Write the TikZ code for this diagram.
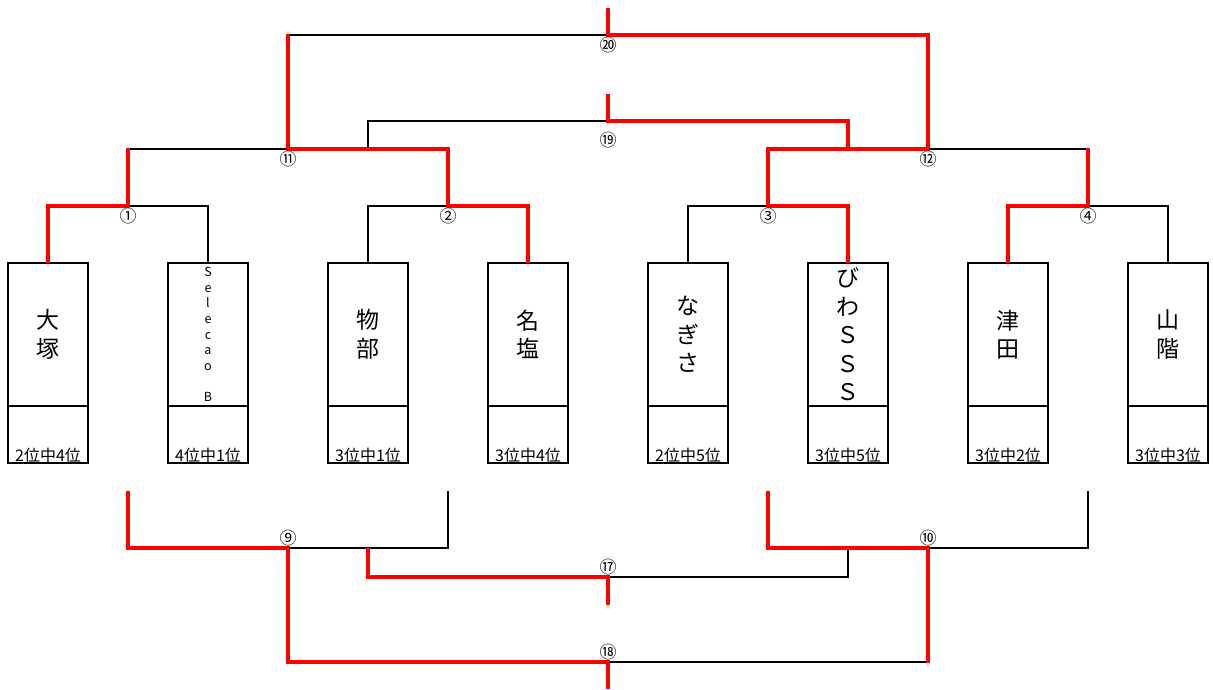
\documentclass[tikz,border=0pt]{standalone}
\usepackage{fontspec}
\setmainfont{Noto Sans CJK JP}
\usetikzlibrary{positioning}

\tikzset{
  team/.style={draw, line width=2.8pt, anchor=north, minimum width=80pt, minimum height=143pt,
    inner sep=0pt, outer sep=0pt, align=center, font=\fontsize{23}{28.5}\selectfont},
  rank/.style={draw, line width=2.8pt, anchor=north, minimum width=80pt, minimum height=57pt,
    inner sep=0pt, outer sep=0pt},
  ranktext/.style={anchor=base, inner sep=0pt, font=\fontsize{16}{16}\selectfont},
  num/.style={inner sep=0pt, font=\fontsize{17}{17}\selectfont},
  win/.style={draw=red, line width=4.5pt},
  lose/.style={draw=black, line width=2.8pt},
}

\begin{document}
\begin{tikzpicture}[x=1pt, y=-1pt]
    \useasboundingbox (0,0) rectangle (1213,689);

    % teams
    \node[team] (t1) at (48,263) {大\\塚};
    \node[team, font=\fontsize{12.5}{15.7}\selectfont] (t2) at (208,263) {S\\e\\l\\e\\c\\a\\o\\~\\B};
    \node[team] (t3) at (368,263) {物\\部};
    \node[team] (t4) at (528,263) {名\\塩};
    \node[team] (t5) at (688,263) {な\\ぎ\\さ};
    \node[team] (t6) at (848,263) {び\\わ\\Ｓ\\Ｓ\\Ｓ};
    \node[team] (t7) at (1008,263) {津\\田};
    \node[team] (t8) at (1168,263) {山\\階};

    \foreach \i/\r in {1/2位中4位, 2/4位中1位, 3/3位中1位, 4/3位中4位,
                       5/2位中5位, 6/3位中5位, 7/3位中2位, 8/3位中3位} {
        \node[rank] (r\i) at (t\i.south) {};
        \node[ranktext] (k\i) at ([yshift=2pt]r\i.south) {\r};
    }

    % upper bracket
    \coordinate (m1) at (128,206);
    \coordinate (m2) at (448,206);
    \coordinate (m3) at (768,206);
    \coordinate (m4) at (1088,206);
    \coordinate (m11) at (288,149);
    \coordinate (m12) at (928,149);
    \coordinate (j11) at (368,149);
    \coordinate (j12) at (848,149);
    \coordinate (m19) at (608,121);
    \coordinate (m20) at (608,35);
    \coordinate (e19) at (608,94);
    \coordinate (e20) at (608,8);

    % lower bracket
    \coordinate (s1) at (128,491);
    \coordinate (s2) at (448,491);
    \coordinate (s3) at (768,491);
    \coordinate (s4) at (1088,491);
    \coordinate (b9) at (288,548);
    \coordinate (b10) at (928,548);
    \coordinate (j9) at (368,548);
    \coordinate (j10) at (848,548);
    \coordinate (m17) at (608,577);
    \coordinate (m18) at (608,662);
    \coordinate (e17) at (608,605);
    \coordinate (e18) at (608,689);

    \path[lose]
        (m1) -| (t2.north)
        (m2) -| (t3.north)
        (m3) -| (t5.north)
        (m4) -| (t8.north)
        (m11) -| (m1)
        (m12) -| (m4)
        (j11) |- (m19)
        (m20) -| (m11)
        (b9) -| (s2)
        (b10) -| (s4)
        (m17) -| (j10)
        (m18) -| (b10);

    \path[win] (t1.north) |- (m1) -- ([yshift=1.4pt]m1 |- m11);
    \path[win] (t4.north) |- (m2) |- (m11) -- ([yshift=1.4pt]m11 |- m20);
    \path[win] (e20) -- (m20) -| (m12) -| (m3) -| (t6.north);
    \path[win] (t7.north) |- (m4) -- ([yshift=1.4pt]m4 |- m12);
    \path[win] (e19) -- (m19) -| (j12);
    \path[win] (s1) |- (b9) |- (m18) -- (e18);
    \path[win] (j9) |- (m17) -- (e17);
    \path[win] (s3) |- (b10) -- ([yshift=-1.4pt]b10 |- m18);

    % match numbers
    \node[num, below=2pt of m1] (n1) {①};
    \node[num, below=2pt of m2] (n2) {②};
    \node[num, below=2pt of m3] (n3) {③};
    \node[num, below=2pt of m4] (n4) {④};
    \node[num, below=2pt of m11] (n11) {⑪};
    \node[num, below=2pt of m12] (n12) {⑫};
    \node[num, below=11pt of m19] (n19) {⑲};
    \node[num, below=2pt of m20] (n20) {⑳};
    \node[num, above=2pt of b9] (n9) {⑨};
    \node[num, above=2pt of b10] (n10) {⑩};
    \node[num, above=2pt of m17] (n17) {⑰};
    \node[num, above=2pt of m18] (n18) {⑱};
\end{tikzpicture}
\end{document}
